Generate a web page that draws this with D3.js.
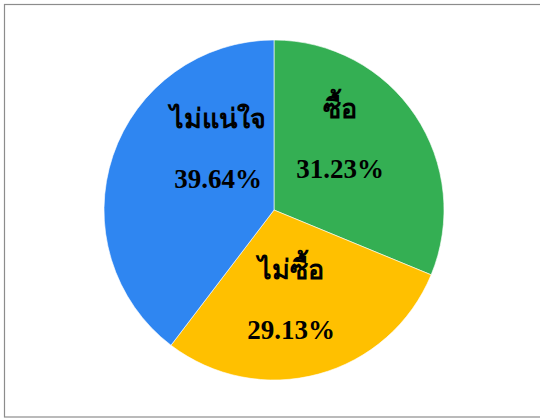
<!DOCTYPE html>
<html>
<head>
<meta charset="utf-8">
<script src="https://cdn.jsdelivr.net/npm/d3@7"></script>
<style>
  html, body { margin: 0; padding: 0; background: #fff; }
  svg { display: block; }
</style>
</head>
<body>
<svg id="chart"></svg>
<script>
// values, clockwise from 12 o'clock
const categories = ["ซื้อ", "ไม่ซื้อ", "ไม่แน่ใจ"];
const shares     = [31.23, 29.13, 39.64];
const pctLabels  = ["31.23%", "29.13%", "39.64%"];

const width = 540, height = 418;
const cx = 274, cy = 210, radius = 170;
const colors = ["#34AF53", "#FFC000", "#2F86F1"];
// Excel "best fit" pushes labels around a bit, nudge from the centroid
const labelShift = [[-17, -16], [-9, -8], [39, -30]];

const svg = d3.select("#chart")
    .attr("width", width)
    .attr("height", height);

// chart area border
svg.append("rect")
    .attr("x", 4.5).attr("y", 4.5)
    .attr("width", width + 10).attr("height", 412.5)
    .attr("fill", "none")
    .attr("stroke", "#8c8c8c")
    .attr("stroke-width", 1.2);

const pie = d3.pie().sort(null).value(d => d);
const arcs = pie(shares);

const arc = d3.arc().innerRadius(0).outerRadius(radius);
const labelArc = d3.arc().innerRadius(100).outerRadius(100);

const g = svg.append("g").attr("transform", `translate(${cx},${cy})`);

g.selectAll("path")
  .data(arcs)
  .join("path")
    .attr("d", arc)
    .attr("fill", (d, i) => colors[i])
    .attr("stroke", "#fff")
    .attr("stroke-width", 0.6);

const labels = g.selectAll("g.lbl")
  .data(arcs)
  .join("g")
    .attr("class", "lbl")
    .attr("transform", (d, i) => {
      const [x, y] = labelArc.centroid(d);
      return `translate(${x + labelShift[i][0]},${y + labelShift[i][1]})`;
    })
    .attr("font-family", "'Liberation Serif', 'Times New Roman', serif")
    .attr("font-weight", "bold")
    .attr("font-size", 27)
    .attr("text-anchor", "middle")
    .attr("fill", "#000");

labels.append("text")
    .attr("y", -20)
    .text((d, i) => categories[i]);

labels.append("text")
    .attr("y", 40)
    .text((d, i) => pctLabels[i]);
</script>
</body>
</html>
